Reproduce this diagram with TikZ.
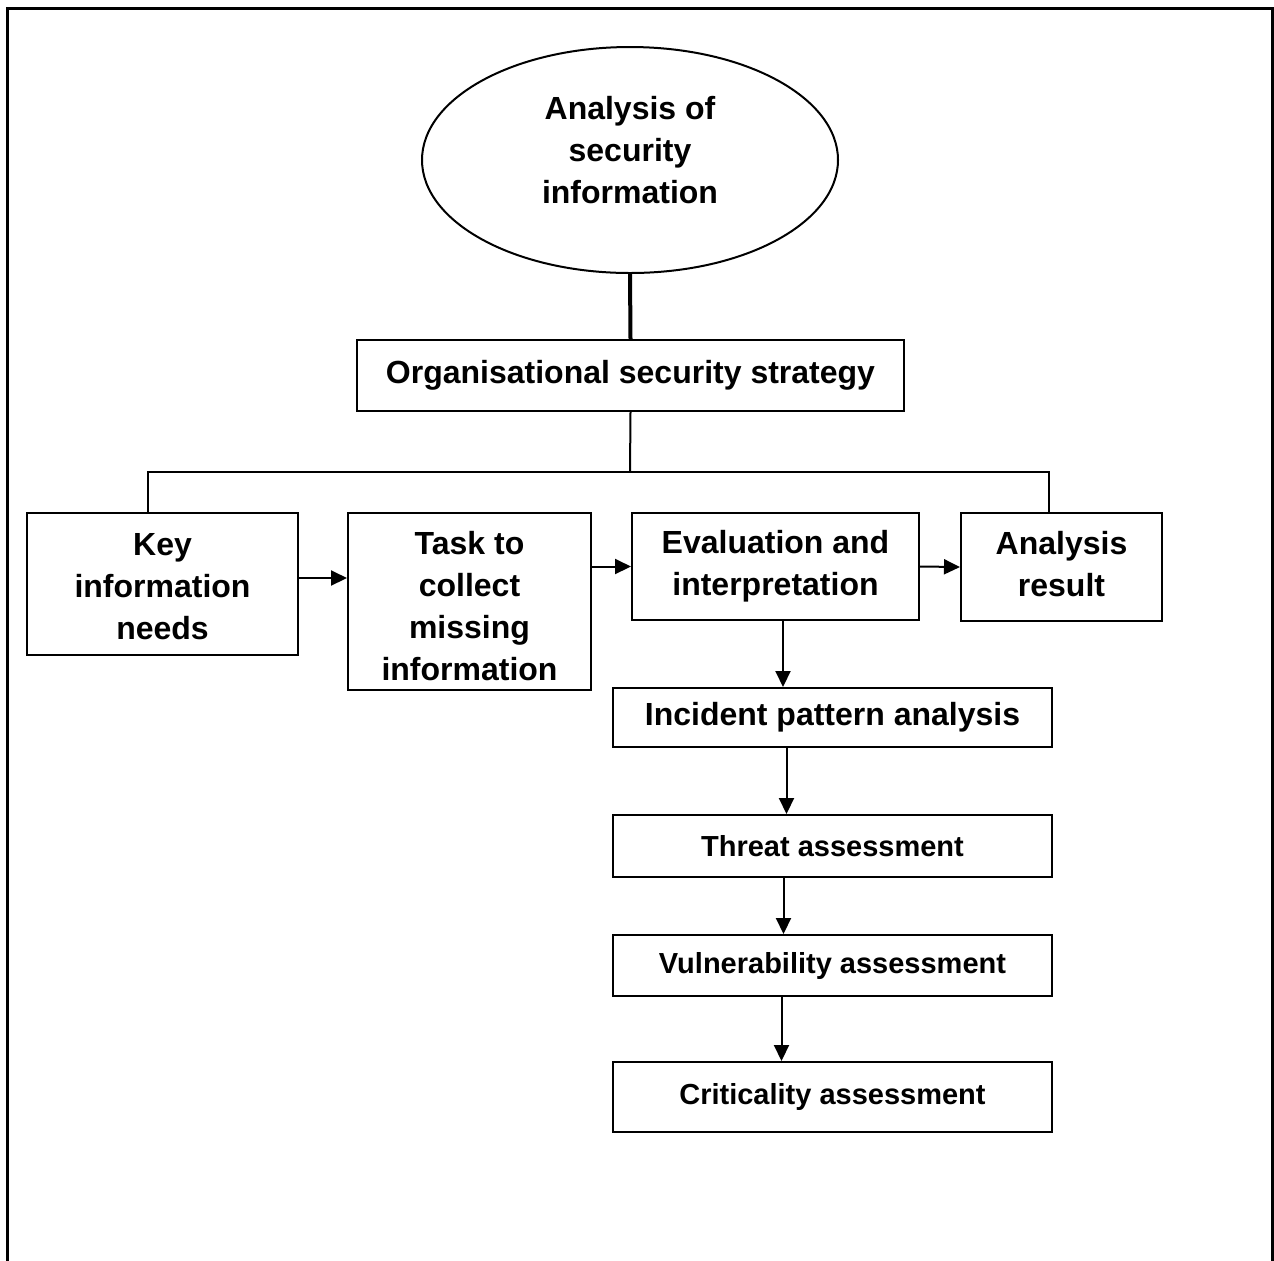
\documentclass[tikz,border=0pt]{standalone}
\usepackage{fontspec}
\setmainfont{Liberation Sans}
\usetikzlibrary{shapes.geometric,arrows.meta}

\tikzset{
  stagebox/.style={draw, line width=1pt, rectangle, align=center, inner sep=0pt,
    font=\fontsize{16}{21}\selectfont\bfseries},
  smallbox/.style={stagebox, font=\fontsize{14.5}{18}\selectfont\bfseries},
  flowarrow/.style={line width=1pt, -{Triangle[length=8pt,width=7.5pt]}},
}

\begin{document}
\begin{tikzpicture}[x=0.5pt, y=-0.5pt]
  \useasboundingbox (0,0) rectangle (1274,1260);
  % outer frame, open at the bottom
  \draw[line width=1.5pt] (7,1262) -- (7,8) -- (1272,8) -- (1272,1262);

  % top of the chart
  \node[ellipse, draw, line width=1pt, minimum width=208pt, minimum height=113pt,
    inner sep=0pt, align=center, font=\fontsize{16}{21}\selectfont\bfseries]
    (topic) at (630,160) {Analysis of\\security\\information\rule[-10pt]{0pt}{0pt}};
  \node[stagebox, minimum width=273.5pt, minimum height=35.5pt]
    (strategy) at (630.5,375.5) {Organisational security strategy};

  % row of stages
  \node[stagebox, minimum width=135.5pt, minimum height=71pt]
    (needs) at (162.5,584) {\rule{0pt}{14pt}Key\\information\\needs};
  \node[stagebox, minimum width=121.5pt, minimum height=88.5pt]
    (collect) at (469.5,601.5) {\rule{0pt}{16pt}Task to\\collect\\missing\\information};
  \node[stagebox, minimum width=143.5pt, minimum height=53.5pt]
    (evaluate) at (775.5,566.5) {Evaluation and\\interpretation};
  \node[stagebox, minimum width=100.5pt, minimum height=54pt]
    (result) at (1061.5,567) {Analysis\\result\rule[-3pt]{0pt}{0pt}};

  % column of assessments
  \node[stagebox, minimum width=219.5pt, minimum height=29.5pt]
    (pattern) at (832.5,717.5) {Incident pattern analysis};
  \node[smallbox, minimum width=219.5pt, minimum height=31pt]
    (threat) at (832.5,846) {Threat assessment};
  \node[smallbox, minimum width=219.5pt, minimum height=30.5pt]
    (vuln) at (832.5,965.5) {Vulnerability assessment};
  \node[smallbox, minimum width=219.5pt, minimum height=35pt]
    (critical) at (832.5,1097) {Criticality assessment};

  \coordinate (split) at (630,472);
  \draw[line width=2pt] (topic.south) -- (strategy.north);
  \draw[line width=1pt] (strategy.south) -- (split);
  \draw[line width=1pt] ([xshift=-7.25pt]needs.north) |- (split)
    -| ([xshift=-6.25pt]result.north);

  \draw[flowarrow] ([yshift=3pt]needs.east) -- ([yshift=3pt]needs.east -| collect.west);
  \draw[flowarrow] (collect.east |- evaluate.west) -- (evaluate.west);
  \draw[flowarrow] (evaluate.east) -- (result.west);

  \draw[flowarrow] ([xshift=3.75pt]evaluate.south) -- ([xshift=3.75pt]evaluate.south |- pattern.north);
  \draw[flowarrow] ([xshift=-23pt]pattern.south) -- ([xshift=-23pt]threat.north);
  \draw[flowarrow] ([xshift=-24.5pt]threat.south) -- ([xshift=-24.5pt]vuln.north);
  \draw[flowarrow] ([xshift=-25.5pt]vuln.south) -- ([xshift=-25.5pt]critical.north);
\end{tikzpicture}
\end{document}
